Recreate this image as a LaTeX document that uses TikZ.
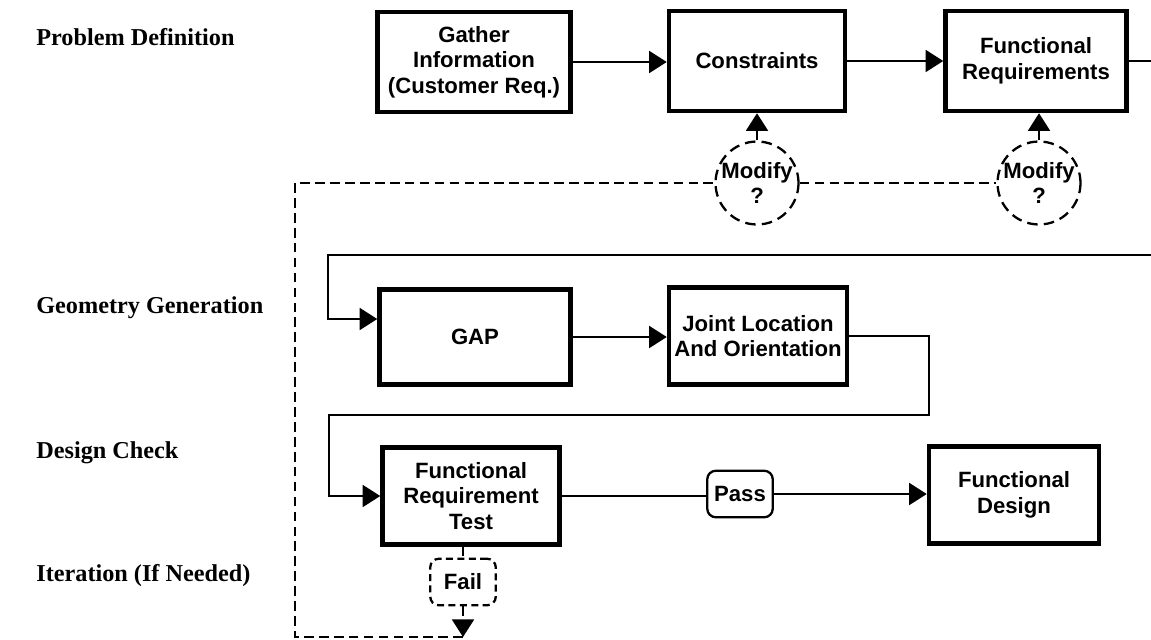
\documentclass[tikz,border=0pt]{standalone}
\usepackage{fontspec}
\setmainfont{Liberation Serif}
\setsansfont{Liberation Sans}
\usepackage{tikz}
\usetikzlibrary{arrows.meta}

\tikzset{
  block/.style={draw, line width=2.6pt, align=center, inner sep=2pt,
    font=\sffamily\bfseries\fontsize{12.6}{14.5}\selectfont},
  tag/.style={draw, line width=1.3pt, rounded corners=0.17cm, align=center,
    minimum width=1.31cm, minimum height=0.93cm, inner sep=1pt,
    font=\sffamily\bfseries\fontsize{12.6}{14.5}\selectfont},
  query/.style={draw, circle, line width=1.3pt, dash pattern=on 6pt off 3.5pt,
    minimum size=1.66cm, inner sep=0pt, align=center,
    font=\sffamily\bfseries\fontsize{12.6}{14}\selectfont},
  phase/.style={anchor=base west, inner sep=0pt,
    font=\rmfamily\bfseries\fontsize{13.8}{15}\selectfont},
  flow/.style={line width=1.1pt},
  iter/.style={line width=1.1pt, dash pattern=on 5.5pt off 3pt},
  tip/.style={-{Triangle[length=10pt,width=12.5pt]}},
}

\begin{document}
\begin{tikzpicture}[x=0.02cm, y=-0.02cm]

\useasboundingbox (0,0) rectangle (1151,639);
\clip (0,0) rectangle (1151,639);

% Phase names
\node[phase] (pdef) at (36,45) {Problem Definition};
\node[phase] (ggen) at (36,313) {Geometry Generation};
\node[phase] (dchk) at (36,458) {Design Check};
\node[phase] (iter) at (36,581) {Iteration (If Needed)};

% Problem definition row
\node[block, minimum width=3.86cm, minimum height=2.0cm] (gather) at (474,62)
  {Gather\\Information\\(Customer Req.)};
\node[block, minimum width=3.52cm, minimum height=2.0cm] (constr) at (757,61)
  {Constraints};
\node[block, minimum width=3.62cm, minimum height=2.0cm] (funcreq) at (1036,61)
  {Functional\\Requirements};

\node[query] (mod1) at (757,183) {Modify\\?};
\node[query] (mod2) at (1039,183) {Modify\\?};

% Geometry generation row
\node[block, minimum width=3.82cm, minimum height=1.9cm] (gap) at (475,337) {GAP};
\node[block, minimum width=3.56cm, minimum height=1.94cm] (joint) at (758,336)
  {Joint Location\\And Orientation};

% Design check row
\node[block, minimum width=3.54cm, minimum height=1.94cm] (frtest) at (471,496)
  {Functional\\Requirement\\Test};
\node[tag] (pass) at (740,494) {Pass};
\node[block, minimum width=3.4cm, minimum height=1.94cm] (fdesign) at (1014,495)
  {Functional\\Design};

\node[tag, dash pattern=on 4pt off 2.5pt] (fail) at (463,582) {Fail};

% Main flow
\draw[flow, tip] (gather.east) -- (gather.east -| constr.west);
\draw[flow, tip] (constr.east) -- (constr.east -| funcreq.west);
\draw[flow, tip] (funcreq.east) -- ++(45,0) |- (328,255) |- ([yshift=0.36cm]gap.west);
\draw[flow, tip] (gap.east) -- (gap.east -| joint.west);
\draw[flow, tip] (joint.east) -- ++(80,0) |- (329,415) |- (frtest.west);
\draw[flow] (frtest.east) -- (frtest.east -| pass.west);
\draw[flow, tip] (pass.east) -- (pass.east -| fdesign.west);

% Modify arrows
\draw[flow, tip] (mod1.north) -- (mod1.north |- constr.south);
\draw[flow, tip] (mod2.north) -- (mod2.north |- funcreq.south);

% Iteration loop
\coordinate (failend) at (463,637);
\draw[iter] (fail.north |- frtest.south) -- (fail.north);
\draw[iter, tip] (fail.south) -- (failend);
\draw[iter] (failend) -| (295,183) -- (mod1.west);
\draw[iter] (mod1.east) -- (mod2.west);

\end{tikzpicture}
\end{document}
